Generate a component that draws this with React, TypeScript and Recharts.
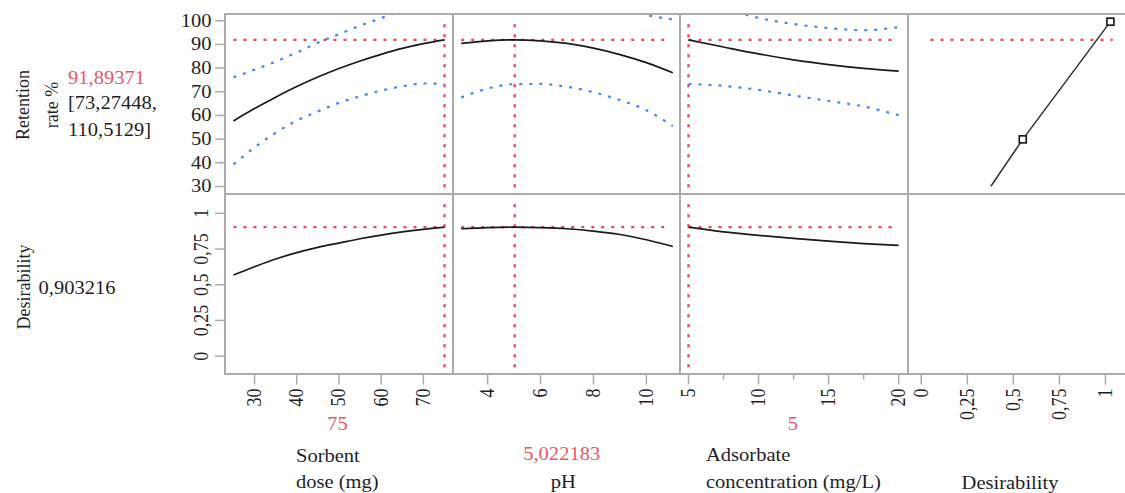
import React from 'react';
import { ComposedChart, Line, XAxis, YAxis, ReferenceLine } from 'recharts';

const FONT = '"Liberation Serif","Times New Roman",serif';
const SX = 1.14;
const TXT = '#1e1e28';
const RED = '#f0445a';
const RED_TXT = '#ee5569';
const BLUE = '#4a84f2';
const GRID = '#ababab';

// Sorbent dose (mg)
const doseX = [25, 30, 35, 40, 45, 50, 55, 60, 65, 70, 75];
const dosePred = [57.7, 62.9, 67.7, 72.2, 76.2, 79.8, 83.0, 85.8, 88.3, 90.3, 91.9];
const doseLow = [39.3, 46.5, 52.7, 57.8, 61.7, 65.3, 68.1, 70.5, 72.3, 73.5, 73.3];
const doseHigh = [76.1, 79.3, 82.7, 86.6, 90.7, 94.3, 97.9, 101.1, 104.3, 107.1, 110.5];
const doseDes = [0.568, 0.626, 0.68, 0.725, 0.762, 0.792, 0.822, 0.848, 0.87, 0.888, 0.903];

// pH
const phX = [3, 4, 5, 6, 7, 8, 9, 10, 11];
const phPred = [90.4, 91.5, 91.9, 91.5, 90.4, 88.4, 85.7, 82.3, 78.0];
const phLow = [67.6, 71.4, 73.2, 73.3, 72.1, 69.8, 66.5, 62.2, 55.5];
const phHigh = [113.2, 111.6, 110.6, 109.7, 108.7, 107.0, 104.9, 102.4, 100.5];
const phDes = [0.892, 0.9, 0.903, 0.9, 0.892, 0.876, 0.852, 0.815, 0.768];

// Adsorbate concentration (mg/L)
const adsX = [5, 7.5, 10, 12.5, 15, 17.5, 20];
const adsPred = [91.9, 88.9, 86.0, 83.5, 81.5, 79.9, 78.7];
const adsLow = [73.3, 72.5, 70.8, 68.4, 66.1, 63.8, 60.1];
const adsHigh = [110.5, 105.3, 101.2, 98.6, 96.9, 96.0, 97.3];
const adsDes = [0.903, 0.87, 0.846, 0.825, 0.805, 0.788, 0.775];

// Desirability function (desirability vs response)
const dfX = [0.378, 0.551, 1.027];
const dfY = [30.1, 49.9, 99.6];
const dfSquare = [0, 1, 1];

// Current settings
const curDose = 75;
const curPh = 5.022183;
const curAds = 5;
const curRet = 91.89371;
const curDes = 0.903216;

// Ticks
const retTicks = [30, 40, 50, 60, 70, 80, 90, 100];
const desYTicks = [0, 0.25, 0.5, 0.75, 1];
const doseTicks = [30, 40, 50, 60, 70];
const phTicks = [4, 6, 8, 10];
const adsTicks = [5, 7.5, 10, 12.5, 15, 17.5, 20];
const adsMajor = [5, 10, 15, 20];
const desXTicks = [0, 0.25, 0.5, 0.75, 1];

const fmt = (v: number) => String(v).replace('.', ',');

const build = (xs: number[], cols: Record<string, number[]>) =>
  xs.map((x, i) => {
    const r: any = { x };
    Object.keys(cols).forEach((k) => (r[k] = cols[k][i]));
    return r;
  });

const doseData = build(doseX, { p: dosePred, lo: doseLow, hi: doseHigh, d: doseDes });
const phData = build(phX, { p: phPred, lo: phLow, hi: phHigh, d: phDes });
const adsData = build(adsX, { p: adsPred, lo: adsLow, hi: adsHigh, d: adsDes });
const dfData = build(dfX, { y: dfY, sq: dfSquare });

const COLS: [number, number][] = [[224.5, 452.5], [452.5, 680], [680, 907.5], [907.5, 1130]];
const TOP = 14, MID = 193.5, BOT = 374;
const YW = 60, XH = 62, PAD = 12;
const RET_DOMAIN: [number, number] = [27.04, 102.84];
const DES_DOMAIN: [number, number] = [-0.1285, 1.1355];
const X_DOMAINS: [number, number][] = [[23, 77.02], [2.69, 11.29], [4.393, 20.63], [-0.072, 1.136]];

const YTickH = (props: any) => {
  const { x, y, payload } = props;
  return (
    <g>
      <line x1={x - 10} x2={x} y1={y} y2={y} stroke={GRID} strokeWidth={1.5} />
      <text transform={`translate(${x - 13.5},${y + 6}) scale(${SX},1)`} textAnchor="end" fontFamily={FONT} fontSize={18} fill={TXT}>
        {fmt(payload.value)}
      </text>
    </g>
  );
};

const YTickV = (props: any) => {
  const { x, y, payload } = props;
  return (
    <g>
      <line x1={x - 10} x2={x} y1={y} y2={y} stroke={GRID} strokeWidth={1.5} />
      <text transform={`translate(${x - 17.5},${y}) scale(${SX},1) rotate(-90)`} textAnchor="middle" fontFamily={FONT} fontSize={18} fill={TXT}>
        {fmt(payload.value)}
      </text>
    </g>
  );
};

const makeXTick = (major?: number[]) => (props: any) => {
  const { x, y, payload } = props;
  const isMajor = !major || major.includes(payload.value);
  return (
    <g>
      <line x1={x} x2={x} y1={y} y2={y + (isMajor ? 10 : 5)} stroke={GRID} strokeWidth={1.5} />
      {isMajor && (
        <text transform={`translate(${x + 6.5},${y + 14}) scale(${SX},1) rotate(-90)`} textAnchor="end" fontFamily={FONT} fontSize={18} fill={TXT}>
          {fmt(payload.value)}
        </text>
      )}
    </g>
  );
};

type PanelProps = {
  col: number;
  row: 0 | 1;
  data?: any[];
  yTickMode?: 'h' | 'v';
  xTicks?: number[];
  xMajor?: number[];
  children?: React.ReactNode;
};

function Panel({ col, row, data, yTickMode, xTicks, xMajor, children }: PanelProps) {
  const [l, r] = COLS[col];
  const top = row === 0 ? TOP : MID;
  const h = row === 0 ? MID - TOP : BOT - MID;
  const yw = yTickMode ? YW : 0;
  const xh = xTicks ? XH : 0;
  const yDomain = row === 0 ? RET_DOMAIN : DES_DOMAIN;
  const yTicks = row === 0 ? retTicks : desYTicks;
  return (
    <div style={{ position: 'absolute', left: l - yw - PAD, top: top - PAD }}>
      <ComposedChart width={r - l + yw + 2 * PAD} height={h + xh + 2 * PAD} data={data} margin={{ top: PAD, right: PAD, bottom: PAD, left: PAD }}>
        <XAxis
          type="number"
          dataKey="x"
          domain={X_DOMAINS[col]}
          allowDataOverflow
          hide={!xTicks}
          ticks={xTicks}
          interval={0}
          height={xh || undefined}
          tickSize={0}
          tickMargin={0}
          tickLine={false}
          axisLine={false}
          tick={makeXTick(xMajor)}
        />
        <YAxis
          type="number"
          domain={yDomain}
          allowDataOverflow
          hide={!yTickMode}
          ticks={yTicks}
          interval={0}
          width={yw || undefined}
          tickSize={0}
          tickMargin={0}
          tickLine={false}
          axisLine={false}
          tick={yTickMode === 'v' ? YTickV : YTickH}
        />
        {children}
      </ComposedChart>
    </div>
  );
}

const redProps = { stroke: RED, strokeWidth: 2.4, strokeDasharray: '3 7' };
const blueProps = { stroke: BLUE, strokeWidth: 2.2, strokeDasharray: '3 7', dot: false, activeDot: false, isAnimationActive: false, type: 'monotone' as const };
const blackProps = { stroke: '#1a1a1a', strokeWidth: 1.7, dot: false, activeDot: false, isAnimationActive: false, type: 'monotone' as const };

function HT({ x, y, anchor = 'start', color = TXT, children }: any) {
  return (
    <text transform={`translate(${x},${y}) scale(${SX},1)`} textAnchor={anchor} fontFamily={FONT} fontSize={18} fill={color}>
      {children}
    </text>
  );
}
function VT({ x, y, children }: any) {
  return (
    <text transform={`translate(${x},${y}) rotate(-90)`} textAnchor="middle" fontFamily={FONT} fontSize={18} fill={TXT}>
      {children}
    </text>
  );
}

const Square = (p: any) =>
  p.payload && p.payload.sq ? (
    <rect key={`sq${p.index}`} x={p.cx - 3.5} y={p.cy - 3.5} width={7} height={7} fill="#fff" stroke="#111" strokeWidth={1.6} />
  ) : (
    <g key={`n${p.index}`} />
  );

export default function App() {
  const border = (style: React.CSSProperties) => (
    <div style={{ position: 'absolute', background: GRID, ...style }} />
  );
  return (
    <div style={{ position: 'absolute', left: 0, top: 0, width: 1125, height: 493, overflow: 'hidden', background: '#fff' }}>
      {/* Row 0: Retention rate */}
      <Panel col={0} row={0} data={doseData} yTickMode="h">
        <ReferenceLine segment={[{ x: doseX[0], y: curRet }, { x: curDose, y: curRet }]} {...redProps} />
        <ReferenceLine segment={[{ x: curDose, y: 29.7 }, { x: curDose, y: 99.2 }]} {...redProps} />
        <Line dataKey="hi" {...blueProps} />
        <Line dataKey="lo" {...blueProps} />
        <Line dataKey="p" {...blackProps} />
      </Panel>
      <Panel col={1} row={0} data={phData}>
        <ReferenceLine segment={[{ x: phX[0], y: curRet }, { x: 10.75, y: curRet }]} {...redProps} />
        <ReferenceLine segment={[{ x: curPh, y: 29.7 }, { x: curPh, y: 99.2 }]} {...redProps} />
        <Line dataKey="hi" {...blueProps} />
        <Line dataKey="lo" {...blueProps} />
        <Line dataKey="p" {...blackProps} />
      </Panel>
      <Panel col={2} row={0} data={adsData}>
        <ReferenceLine segment={[{ x: curAds, y: curRet }, { x: 19.5, y: curRet }]} {...redProps} />
        <ReferenceLine segment={[{ x: curAds, y: 29.7 }, { x: curAds, y: 99.2 }]} {...redProps} />
        <Line dataKey="hi" {...blueProps} />
        <Line dataKey="lo" {...blueProps} />
        <Line dataKey="p" {...blackProps} />
      </Panel>
      <Panel col={3} row={0} data={dfData}>
        <ReferenceLine segment={[{ x: 0.05, y: curRet }, { x: 1.04, y: curRet }]} {...redProps} />
        <Line dataKey="y" type="linear" stroke="#333" strokeWidth={1.5} dot={Square} activeDot={false} isAnimationActive={false} />
      </Panel>

      {/* Row 1: Desirability */}
      <Panel col={0} row={1} data={doseData} yTickMode="v" xTicks={doseTicks}>
        <ReferenceLine segment={[{ x: doseX[0], y: curDes }, { x: curDose, y: curDes }]} {...redProps} />
        <ReferenceLine segment={[{ x: curDose, y: -0.077 }, { x: curDose, y: 1.065 }]} {...redProps} />
        <Line dataKey="d" {...blackProps} />
      </Panel>
      <Panel col={1} row={1} data={phData} xTicks={phTicks}>
        <ReferenceLine segment={[{ x: phX[0], y: curDes }, { x: 10.75, y: curDes }]} {...redProps} />
        <ReferenceLine segment={[{ x: curPh, y: -0.077 }, { x: curPh, y: 1.065 }]} {...redProps} />
        <Line dataKey="d" {...blackProps} />
      </Panel>
      <Panel col={2} row={1} data={adsData} xTicks={adsTicks} xMajor={adsMajor}>
        <ReferenceLine segment={[{ x: curAds, y: curDes }, { x: 19.5, y: curDes }]} {...redProps} />
        <ReferenceLine segment={[{ x: curAds, y: -0.077 }, { x: curAds, y: 1.065 }]} {...redProps} />
        <Line dataKey="d" {...blackProps} />
      </Panel>
      <Panel col={3} row={1} data={dfData} xTicks={desXTicks} />

      {/* Frame */}
      {border({ left: 223.5, top: 13, width: 910, height: 2 })}
      {border({ left: 223.5, top: 192.5, width: 910, height: 2 })}
      {border({ left: 223.5, top: 373, width: 910, height: 2 })}
      {border({ left: 223.5, top: 13, width: 2, height: 362 })}
      {border({ left: 451.5, top: 13, width: 2, height: 362 })}
      {border({ left: 679, top: 13, width: 2, height: 362 })}
      {border({ left: 906.5, top: 13, width: 2, height: 362 })}

      {/* Labels */}
      <svg width={1125} height={493} style={{ position: 'absolute', left: 0, top: 0, pointerEvents: 'none' }}>
        <VT x={28.5} y={105}>Retention</VT>
        <VT x={57.5} y={105}>rate %</VT>
        <HT x={68} y={83.5} color={RED_TXT}>{fmt(curRet)}</HT>
        <HT x={68} y={108.5}>[73,27448,</HT>
        <HT x={68} y={135.5}>110,5129]</HT>
        <VT x={29.5} y={287}>Desirability</VT>
        <HT x={38.5} y={293.5}>{fmt(curDes)}</HT>

        <HT x={337.5} y={430} anchor="middle" color={RED_TXT}>{fmt(curDose)}</HT>
        <HT x={296} y={461.5}>Sorbent</HT>
        <HT x={296} y={487.5}>dose (mg)</HT>
        <HT x={561.7} y={460} anchor="middle" color={RED_TXT}>{fmt(curPh)}</HT>
        <HT x={563.3} y={487.5} anchor="middle">pH</HT>
        <HT x={792.8} y={430} anchor="middle" color={RED_TXT}>{fmt(curAds)}</HT>
        <HT x={706} y={460.5}>Adsorbate</HT>
        <HT x={706} y={487.5}>concentration (mg/L)</HT>
        <HT x={1010} y={489} anchor="middle">Desirability</HT>
      </svg>
    </div>
  );
}
